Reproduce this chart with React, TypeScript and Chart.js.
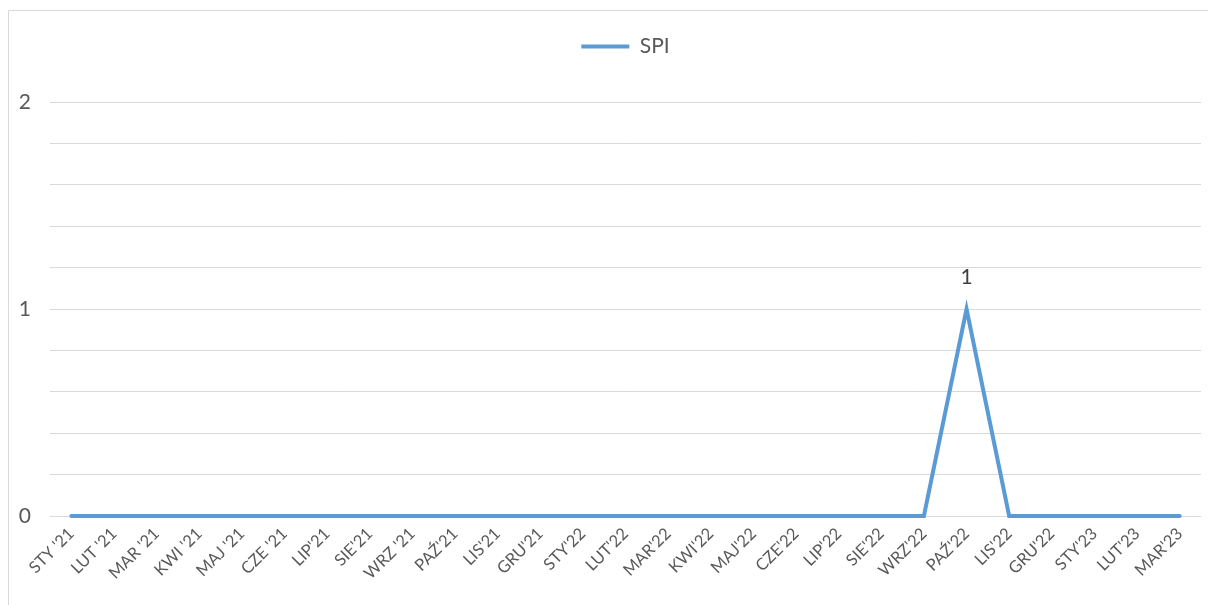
import React, { useEffect, useRef } from "react";
import { Chart, registerables } from "chart.js";

Chart.register(...registerables);

const categories = [
  "STY '21", "LUT '21", "MAR '21", "KWI '21", "MAJ '21", "CZE '21", "LIP'21", "SIE'21", "WRZ '21",
  "PAŹ'21", "LIS'21", "GRU'21", "STY'22", "LUT'22", "MAR'22", "KWI'22", "MAJ'22", "CZE'22",
  "LIP'22", "SIE'22", "WRZ'22", "PAŹ'22", "LIS'22", "GRU'22", "STY'23", "LUT'23", "MAR'23",
];

const spiValues = [
  0, 0, 0, 0, 0, 0, 0, 0, 0,
  0, 0, 0, 0, 0, 0, 0, 0, 0,
  0, 0, 0, 1, 0, 0, 0, 0, 0,
];

const yTickLabels = [0, 1, 2];

const FONT = "Lato, 'Open Sans', sans-serif";

const borderPlugin = {
  id: "outerBorder",
  beforeDraw(chart: any) {
    const ctx = chart.ctx;
    ctx.save();
    ctx.fillStyle = "#ffffff";
    ctx.fillRect(0, 0, chart.width, chart.height);
    ctx.strokeStyle = "#d9d9d9";
    ctx.lineWidth = 1;
    ctx.beginPath();
    ctx.moveTo(8.5, chart.height);
    ctx.lineTo(8.5, 10.5);
    ctx.lineTo(chart.width, 10.5);
    ctx.stroke();
    ctx.restore();
  },
};

const dataLabelPlugin = {
  id: "valueLabels",
  afterDatasetsDraw(chart: any) {
    const ctx = chart.ctx;
    const meta = chart.getDatasetMeta(0);
    const data = chart.data.datasets[0].data;
    ctx.save();
    ctx.font = `21px ${FONT}`;
    ctx.fillStyle = "#404040";
    ctx.textAlign = "center";
    ctx.textBaseline = "middle";
    meta.data.forEach((pt: any, i: number) => {
      if (data[i] !== 0) {
        ctx.fillText(String(data[i]), pt.x, pt.y - 32);
      }
    });
    ctx.restore();
  },
};

export default function App() {
  const canvasRef = useRef<HTMLCanvasElement | null>(null);

  useEffect(() => {
    const canvas = canvasRef.current;
    if (!canvas) return;
    const chart = new Chart(canvas, {
      type: "line",
      data: {
        labels: categories,
        datasets: [
          {
            label: "SPI",
            data: spiValues,
            borderColor: "#5B9BD5",
            backgroundColor: "#5B9BD5",
            borderWidth: 4,
            borderCapStyle: "round",
            borderJoinStyle: "miter",
            pointRadius: 0,
            pointHoverRadius: 0,
            tension: 0,
            fill: false,
            clip: false,
          },
        ],
      },
      options: {
        responsive: false,
        animation: false,
        layout: { padding: { left: 0, right: 7, top: 26, bottom: 0 } },
        plugins: {
          legend: {
            display: true,
            position: "top",
            fullSize: false,
            labels: {
              usePointStyle: true,
              pointStyle: "line",
              pointStyleWidth: 48,
              color: "#595959",
              font: { family: FONT, size: 21 },
              padding: 10,
            },
          },
          title: {
            display: true,
            text: "",
            position: "top",
            weight: 500,
            font: { size: 1, lineHeight: 1 },
            padding: { top: 34, bottom: 0 },
          },
          tooltip: { enabled: false },
        },
        scales: {
          x: {
            offset: true,
            grid: { display: false, drawTicks: false },
            border: { display: false },
            ticks: {
              autoSkip: false,
              maxRotation: 45,
              minRotation: 45,
              color: "#595959",
              font: { family: FONT, size: 16.5 },
              padding: 8,
            },
            afterFit(scale: any) {
              scale.height = 89;
            },
          },
          y: {
            min: 0,
            max: 2,
            grid: { color: "#d9d9d9", lineWidth: 1, drawTicks: false },
            border: { display: false },
            ticks: {
              stepSize: 0.2,
              color: "#595959",
              font: { family: FONT, size: 21 },
              padding: 19,
              callback(value: any) {
                const v = Math.round(Number(value) * 1000) / 1000;
                return yTickLabels.includes(v) ? String(v) : "";
              },
            },
            afterFit(scale: any) {
              scale.width = 50;
            },
          },
        },
      },
      plugins: [borderPlugin, dataLabelPlugin],
    });
    return () => chart.destroy();
  }, []);

  return (
    <div style={{ position: "fixed", left: 0, top: 0, width: 1208, height: 605 }}>
      <canvas ref={canvasRef} width={1208} height={605} style={{ display: "block" }} />
    </div>
  );
}
